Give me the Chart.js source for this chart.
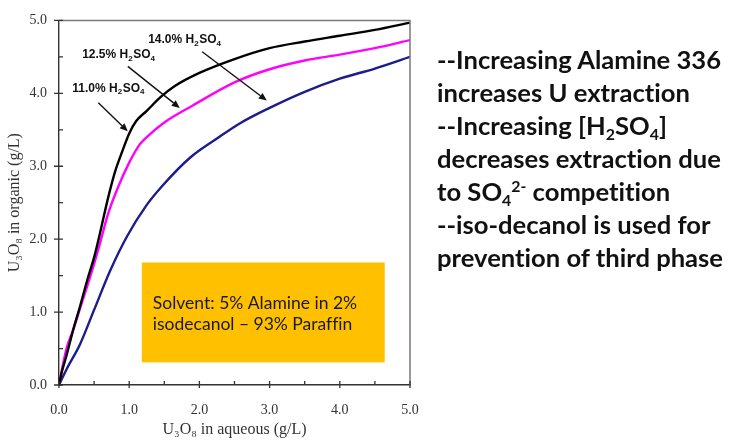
<!DOCTYPE html>
<html>
<head>
<meta charset="utf-8">
<title>U3O8 extraction isotherms</title>
<script src="https://cdn.jsdelivr.net/npm/chart.js@4/dist/chart.umd.min.js"></script>
<style>
  html, body { margin: 0; padding: 0; background: #fff; }
  #wrap { position: relative; width: 731px; height: 440px; overflow: hidden; }
  #chart { position: absolute; left: 0; top: 0; }
  #notes {
    position: absolute; left: 437px; top: 43px;
    font-family: Lato, "Open Sans", sans-serif; font-weight: 700;
    font-size: 25.6px; line-height: 33px; color: #111; white-space: nowrap;
    font-variant-ligatures: none;
  }
  #notes sub, #notes sup { font-size: 0.62em; line-height: 0; position: relative; vertical-align: baseline; }
  #notes sub { top: 0.3em; }
  #notes sup { top: -0.55em; }
</style>
</head>
<body>
<div id="wrap">
  <canvas id="chart" width="731" height="440"></canvas>
  <div id="notes">
    --Increasing Alamine 336<br>
    increases U extraction<br>
    --Increasing [H<sub>2</sub>SO<sub>4</sub>]<br>
    decreases extraction due<br>
    to SO<sub>4</sub><sup>2-</sup> competition<br>
    --iso-decanol is used for<br>
    prevention of third phase
  </div>
</div>
<script>
// Equilibrium isotherms: U3O8 in aqueous (g/L) vs U3O8 in organic (g/L)
const seriesNames = ['11.0% H2SO4', '12.5% H2SO4', '14.0% H2SO4'];

const aq110  = [0, 0.04, 0.1, 0.2, 0.3, 0.4, 0.5, 0.6, 0.7, 0.8, 0.9, 1.0, 1.1, 1.25, 1.45, 1.65, 2.0, 2.5, 3.0, 3.5, 4.0, 4.5, 5.0];
const org110 = [0, 0.18, 0.38, 0.75, 1.08, 1.43, 1.75, 2.15, 2.57, 2.93, 3.2, 3.45, 3.62, 3.76, 3.95, 4.1, 4.28, 4.47, 4.62, 4.71, 4.79, 4.87, 4.97];

const aq125  = [0, 0.05, 0.11, 0.2, 0.3, 0.42, 0.56, 0.7, 0.84, 1.0, 1.15, 1.25, 1.5, 1.9, 2.5, 3.0, 3.5, 4.0, 4.5, 5.0];
const org125 = [0, 0.25, 0.51, 0.75, 1.05, 1.41, 1.86, 2.35, 2.71, 3.05, 3.3, 3.4, 3.6, 3.83, 4.15, 4.33, 4.45, 4.53, 4.62, 4.73];

const aq140  = [0, 0.11, 0.3, 0.5, 0.73, 0.97, 1.25, 1.48, 1.87, 2.25, 2.58, 3.0, 3.5, 4.0, 4.5, 5.0];
const org140 = [0, 0.22, 0.56, 1.03, 1.57, 2.04, 2.47, 2.74, 3.12, 3.38, 3.59, 3.8, 4.02, 4.2, 4.34, 4.5];

const axisTicks = [0, 1, 2, 3, 4, 5];
const solventNote = ['Solvent: 5% Alamine in 2%', 'isodecanol \u2013 93% Paraffin'];

const toPoints = (xs, ys) => xs.map((x, i) => ({ x: x, y: ys[i] }));

// Arrow callouts, in data units: label anchor (left, middle) and arrow start/end
const callouts = [
  { pct: '11.0%', lx: 0.19, ly: 4.07, ax0: 0.56, ay0: 3.87, ax1: 0.98, ay1: 3.48 },
  { pct: '12.5%', lx: 0.33, ly: 4.53, ax0: 0.98, ay0: 4.37, ax1: 1.72, ay1: 3.80 },
  { pct: '14.0%', lx: 1.27, ly: 4.74, ax0: 2.04, ay0: 4.57, ax1: 2.96, ay1: 3.90 }
];
const noteBox = { x0: 1.18, x1: 4.64, y0: 0.31, y1: 1.68 };

const serif = "'Liberation Serif', 'Times New Roman', serif";

// Frame, major/minor tick marks
const framePlugin = {
  id: 'frame',
  afterDraw(chart) {
    const { ctx, chartArea: a, scales: { x, y } } = chart;
    ctx.save();
    ctx.strokeStyle = '#7a7a7a';
    ctx.lineWidth = 1.5;
    ctx.beginPath();
    ctx.moveTo(a.left, a.top); ctx.lineTo(a.right, a.top); ctx.lineTo(a.right, a.bottom);
    ctx.stroke();
    ctx.strokeStyle = '#333';
    ctx.lineWidth = 1.3;
    ctx.beginPath();
    for (let v = 0; v <= 5.0001; v += 0.5) {
      const major = Math.abs(v - Math.round(v)) < 1e-6;
      const px = x.getPixelForValue(v);
      ctx.moveTo(px, a.bottom + (major ? 3 : 0)); ctx.lineTo(px, a.bottom - 4);
      const py = y.getPixelForValue(v);
      ctx.moveTo(a.left - (major ? 5 : 0), py); ctx.lineTo(a.left + 4, py);
    }
    ctx.stroke();
    ctx.restore();
  }
};

// Orange solvent note box (under the curves)
const notePlugin = {
  id: 'note',
  beforeDatasetsDraw(chart) {
    const { ctx, scales: { x, y } } = chart;
    const l = x.getPixelForValue(noteBox.x0), r = x.getPixelForValue(noteBox.x1);
    const t = y.getPixelForValue(noteBox.y1), b = y.getPixelForValue(noteBox.y0);
    ctx.save();
    ctx.fillStyle = '#FFC000';
    ctx.fillRect(l, t, r - l, b - t);
    ctx.fillStyle = '#1a1a1a';
    ctx.font = "17.5px Lato, 'Open Sans', sans-serif";
    if ('textRendering' in ctx) ctx.textRendering = 'optimizeSpeed';
    ctx.textBaseline = 'middle';
    ctx.textAlign = 'left';
    const cy = (t + b) / 2;
    ctx.fillText(solventNote[0], l + 11, cy - 9.5);
    ctx.fillText(solventNote[1], l + 11, cy + 11.5);
    ctx.restore();
  }
};

// H2SO4 callout labels with arrows
const calloutPlugin = {
  id: 'callouts',
  afterDatasetsDraw(chart) {
    const { ctx, scales: { x, y } } = chart;
    const big = "bold 12px 'Liberation Sans', Arial, sans-serif";
    const small = "bold 8px 'Liberation Sans', Arial, sans-serif";
    ctx.save();
    ctx.fillStyle = '#111';
    ctx.strokeStyle = '#111';
    ctx.textBaseline = 'middle';
    ctx.textAlign = 'left';
    callouts.forEach(c => {
      let px = x.getPixelForValue(c.lx);
      const py = y.getPixelForValue(c.ly);
      const parts = [[c.pct + ' H', big, 0], ['2', small, 4], ['SO', big, 0], ['4', small, 4]];
      parts.forEach(([s, f, dy]) => {
        ctx.font = f;
        ctx.fillText(s, px, py + dy);
        px += ctx.measureText(s).width + (dy ? 0.5 : 0);
      });
      const x0 = x.getPixelForValue(c.ax0), y0 = y.getPixelForValue(c.ay0);
      const x1 = x.getPixelForValue(c.ax1), y1 = y.getPixelForValue(c.ay1);
      const ang = Math.atan2(y1 - y0, x1 - x0);
      const hl = 8, hw = 3.5;
      const bx = x1 - hl * Math.cos(ang), by = y1 - hl * Math.sin(ang);
      ctx.lineWidth = 1.4;
      ctx.beginPath(); ctx.moveTo(x0, y0); ctx.lineTo(bx, by); ctx.stroke();
      ctx.beginPath();
      ctx.moveTo(x1, y1);
      ctx.lineTo(bx - hw * Math.sin(ang), by + hw * Math.cos(ang));
      ctx.lineTo(bx + hw * Math.sin(ang), by - hw * Math.cos(ang));
      ctx.closePath(); ctx.fill();
    });
    ctx.restore();
  }
};

const lineStyle = { showLine: true, pointRadius: 0, borderWidth: 2.4, cubicInterpolationMode: 'monotone', fill: false };

new Chart(document.getElementById('chart'), {
  type: 'scatter',
  data: {
    datasets: [
      Object.assign({ label: seriesNames[0], data: toPoints(aq110, org110), borderColor: '#000000' }, lineStyle),
      Object.assign({ label: seriesNames[1], data: toPoints(aq125, org125), borderColor: '#FF00FF' }, lineStyle),
      Object.assign({ label: seriesNames[2], data: toPoints(aq140, org140), borderColor: '#1C1C8C' }, lineStyle)
    ]
  },
  options: {
    responsive: false,
    animation: false,
    devicePixelRatio: 1,
    layout: { padding: { top: 13, right: 321, left: 0, bottom: 0 } },
    plugins: { legend: { display: false }, tooltip: { enabled: false } },
    scales: {
      x: {
        type: 'linear', min: 0, max: 5,
        afterBuildTicks: s => { s.ticks = axisTicks.map(v => ({ value: v })); },
        afterFit: s => { s.height = 55; },
        grid: { display: false, drawTicks: false },
        border: { display: true, color: '#333', width: 1.4 },
        ticks: { padding: 17, color: '#333', font: { family: serif, size: 14 }, callback: v => Number(v).toFixed(1), maxRotation: 0 },
        title: { display: true, text: 'U\u2083O\u2088 in aqueous (g/L)', color: '#333', font: { family: serif, size: 16 }, padding: { top: 0, bottom: 1 } }
      },
      y: {
        type: 'linear', min: 0, max: 5,
        afterBuildTicks: s => { s.ticks = axisTicks.map(v => ({ value: v })); },
        afterFit: s => { s.width = 59; },
        grid: { display: false, drawTicks: false },
        border: { display: true, color: '#333', width: 1.4 },
        ticks: { padding: 12, color: '#333', font: { family: serif, size: 14 }, callback: v => Number(v).toFixed(1) },
        title: { display: true, text: 'U\u2083O\u2088 in organic (g/L)', color: '#333', font: { family: serif, size: 16 }, padding: { top: 5, bottom: 0 } }
      }
    }
  },
  plugins: [notePlugin, calloutPlugin, framePlugin]
});
</script>
</body>
</html>
